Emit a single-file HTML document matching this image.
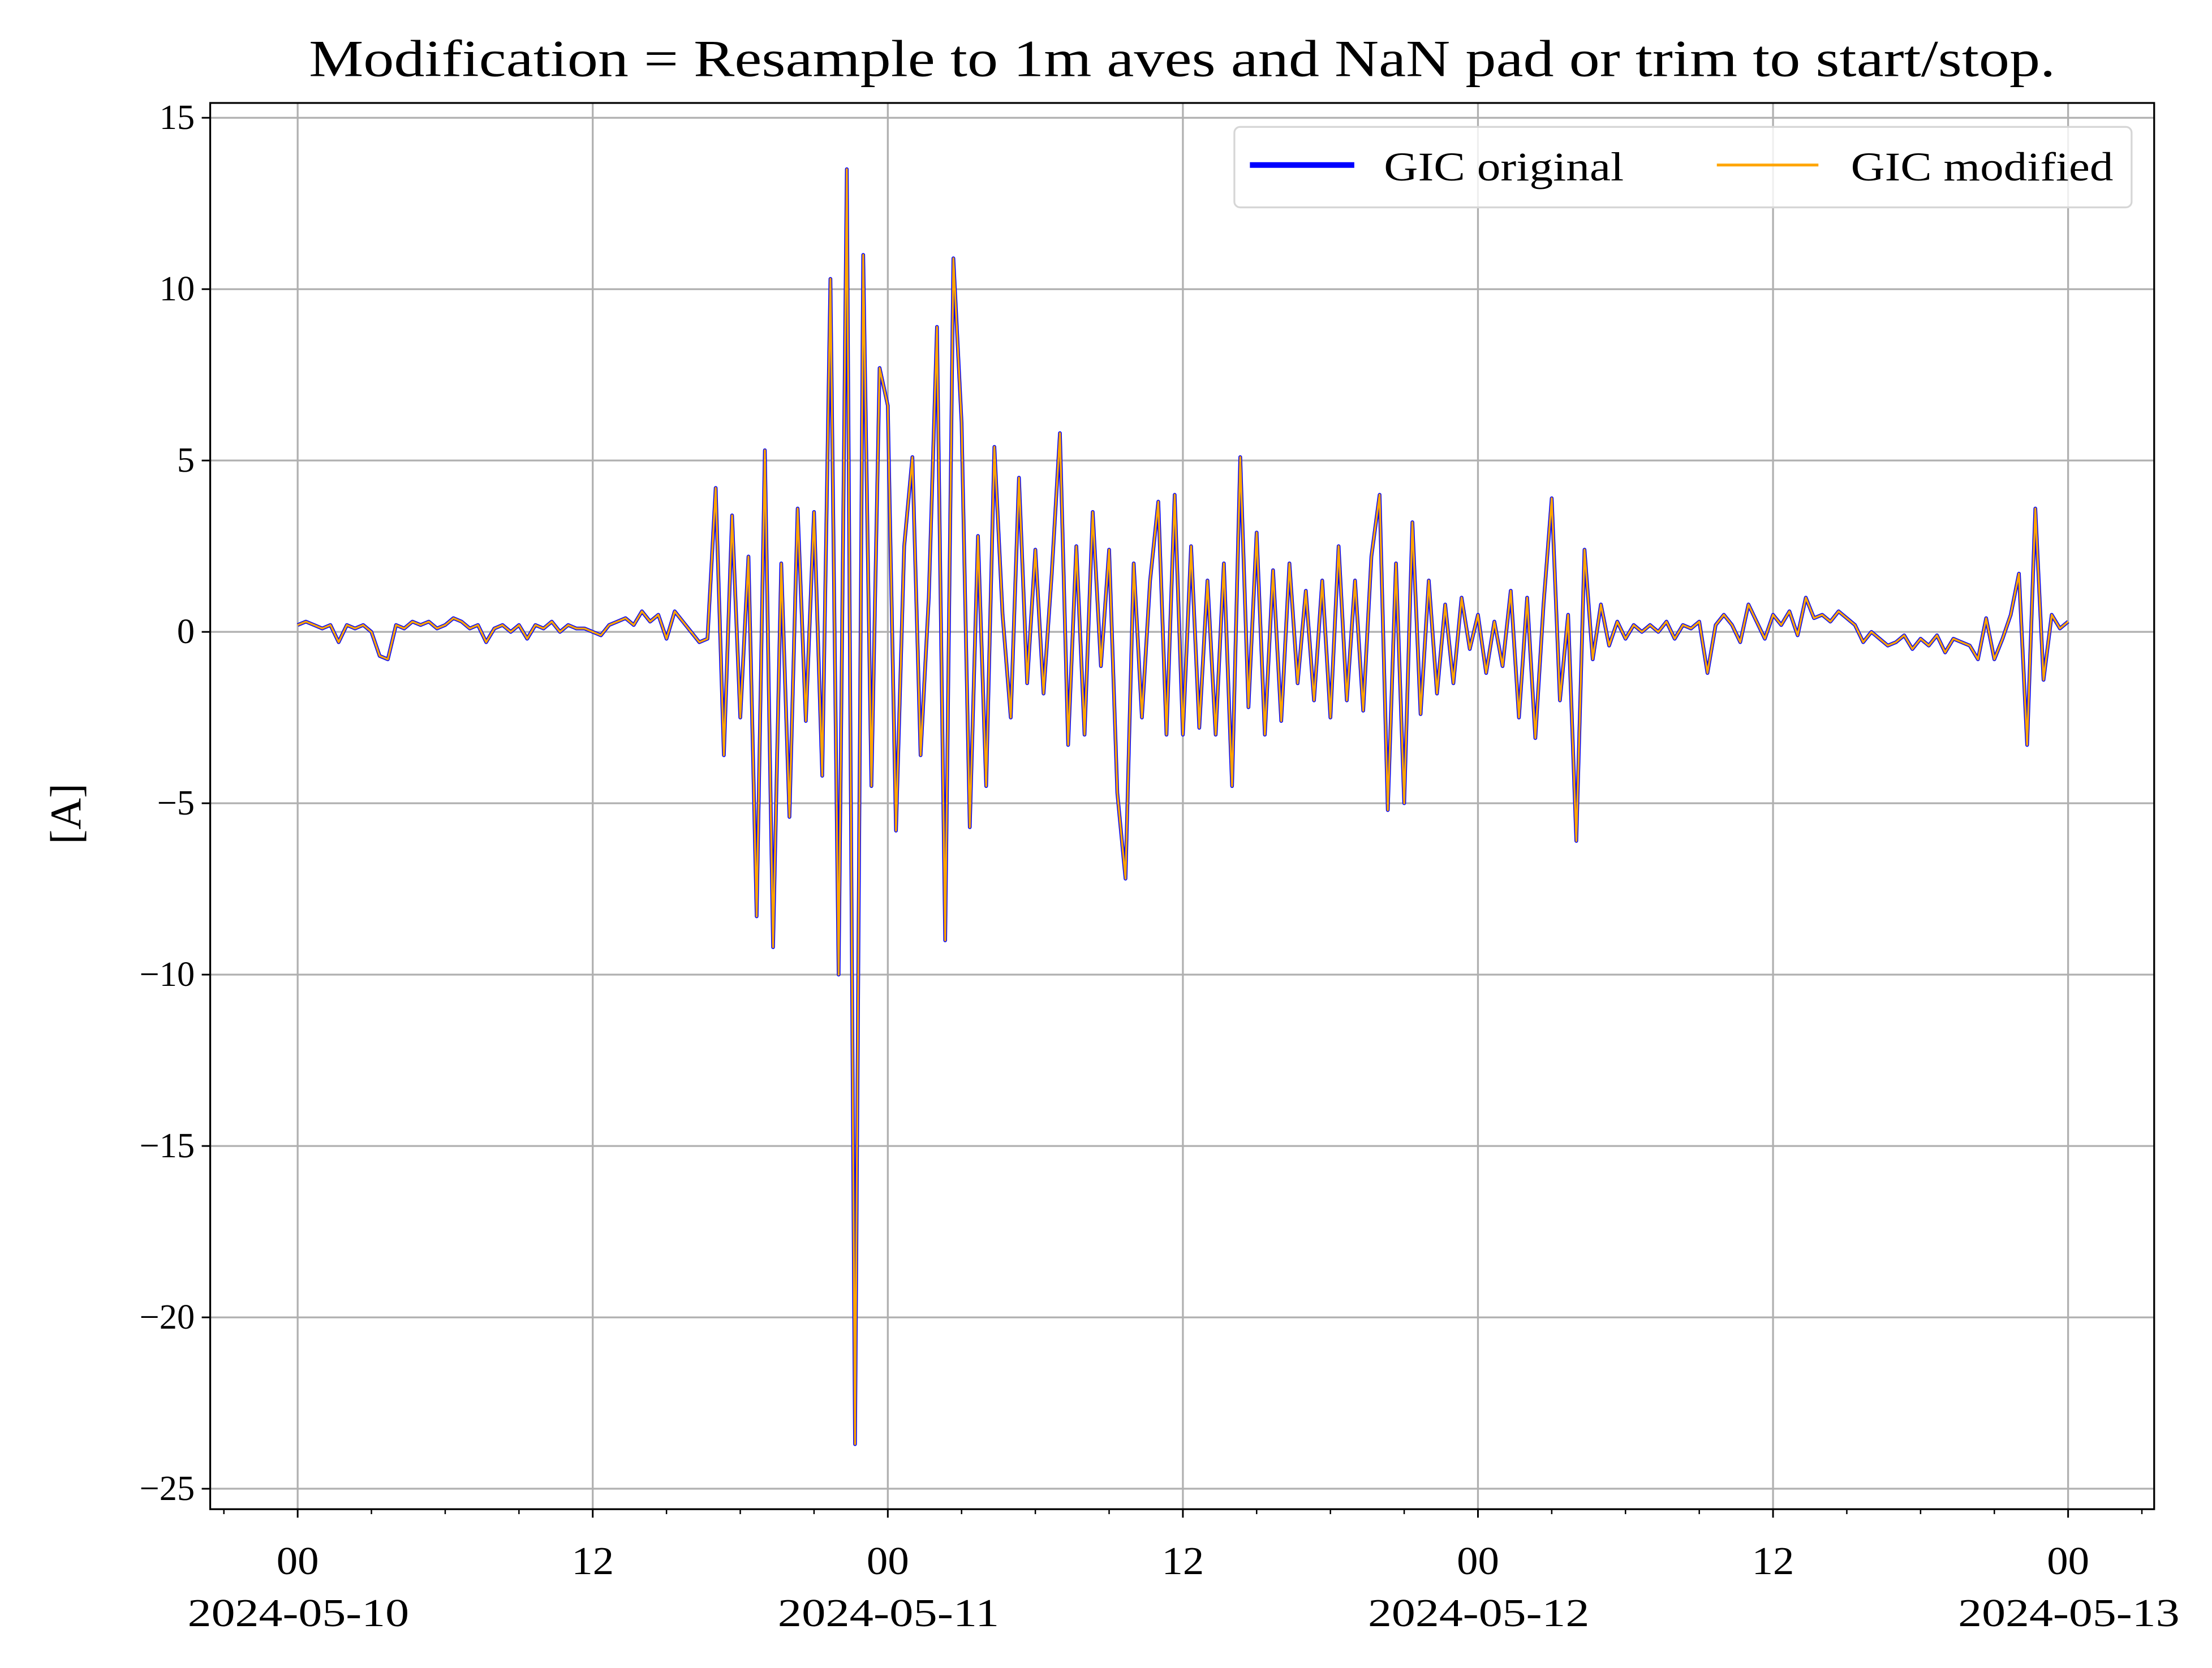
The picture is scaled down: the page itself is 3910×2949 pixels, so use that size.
<!DOCTYPE html>
<html><head><meta charset="utf-8">
<style>
html,body{margin:0;padding:0;background:#fff;}
svg{display:block;}
text{font-family:"Liberation Serif",serif;fill:#000;}
</style></head>
<body>
<svg id="chart" width="3910" height="2949" viewBox="0 0 1568 1182.6" preserveAspectRatio="none" xmlns="http://www.w3.org/2000/svg">
<rect x="0" y="0" width="1568" height="1182.6" fill="#fff"/>
<text x="219" y="54" font-size="37" textLength="1238" lengthAdjust="spacingAndGlyphs">Modification = Resample to 1m aves and NaN pad or trim to start/stop.</text>
<g id="grid"></g>
<g id="series"></g>
<g id="axes"></g>
<text transform="translate(57,577) rotate(-90)" font-size="31" text-anchor="middle">[A]</text>
<g>
<rect x="875" y="90" width="636" height="57" rx="4" fill="#fff" fill-opacity="0.8" stroke="#d6d6d6" stroke-width="1.3"/>
<line x1="886" y1="117" x2="960" y2="117" stroke="#0000ff" stroke-width="4"/>
<text x="981" y="128" font-size="29" textLength="170" lengthAdjust="spacingAndGlyphs">GIC original</text>
<line x1="1217" y1="117" x2="1289" y2="117" stroke="#ffa500" stroke-width="2"/>
<text x="1312" y="128" font-size="29" textLength="186" lengthAdjust="spacingAndGlyphs">GIC modified</text>
</g>
</svg>
<script>
const stepHours = 1/3;
const gicValues = [
0.2,0.3,0.2, 0.1,0.2,-0.3, 0.2,0.1,0.2, 0.0,-0.7,-0.8, 0.2,0.1,0.3, 0.2,0.3,0.1,
0.2,0.4,0.3, 0.1,0.2,-0.3, 0.1,0.2,0.0, 0.2,-0.2,0.2, 0.1,0.3,0.0, 0.2,0.1,0.1,
0.0,-0.1,0.2, 0.3,0.4,0.2, 0.6,0.3,0.5, -0.2,0.6,0.3, 0.0,-0.3,-0.2, 4.2,-3.6,3.4,
-2.5,2.2,-8.3, 5.3,-9.2,2.0, -5.4,3.6,-2.6, 3.5,-4.2,10.3, -10,13.5,-23.7, 11,-4.5,7.7,
6.6,-5.8,2.5, 5.1,-3.6,1.0, 8.9,-9,10.9, 6.1,-5.7,2.8, -4.5,5.4,0.5, -2.5,4.5,-1.5,
2.4,-1.8,1.7, 5.8,-3.3,2.5, -3.0,3.5,-1.0, 2.4,-4.7,-7.2, 2.0,-2.5,1.5, 3.8,-3.0,4.0,
-3.0,2.5,-2.8, 1.5,-3.0,2.0, -4.5,5.1,-2.2, 2.9,-3.0,1.8, -2.6,2.0,-1.5, 1.2,-2.0,1.5,
-2.5,2.5,-2.0, 1.5,-2.3,2.2, 4.0,-5.2,2.0, -5.0,3.2,-2.4, 1.5,-1.8,0.8, -1.5,1.0,-0.5,
0.5,-1.2,0.3, -1.0,1.2,-2.5, 1.0,-3.1,0.8, 3.9,-2.0,0.5, -6.1,2.4,-0.8, 0.8,-0.4,0.3,
-0.2,0.2,0.0, 0.2,0.0,0.3, -0.2,0.2,0.1, 0.3,-1.2,0.2, 0.5,0.2,-0.3, 0.8,0.3,-0.2,
0.5,0.2,0.6, -0.1,1.0,0.4, 0.5,0.3,0.6, 0.4,0.2,-0.3, 0.0,-0.2,-0.4, -0.3,-0.1,-0.5,
-0.2,-0.4,-0.1, -0.6,-0.2,-0.3, -0.4,-0.8,0.4, -0.8,-0.2,0.5, 1.7,-3.3,3.6, -1.4,0.5,0.1,
0.3
];
const yTicks = [15,10,5,0,-5,-10,-15,-20,-25];
const yTickLabels = ["15","10","5","0","\u22125","\u221210","\u221215","\u221220","\u221225"];
const xTickHours = [0,12,24,36,48,60,72];
const xTickLabels = ["00","12","00","12","00","12","00"];
const xDateLabels = ["2024-05-10","","2024-05-11","","2024-05-12","","2024-05-13"];

const AX = {l:149, r:1527, t:73, b:1070};
const xs = h => 211 + h*(1466-211)/72;
const ys = v => 448 - v*(1056-84)/40;
const NS = "http://www.w3.org/2000/svg";
function mk(tag, attrs, parent){const e=document.createElementNS(NS,tag);for(const k in attrs)e.setAttribute(k,attrs[k]);parent.appendChild(e);return e;}
const grid=document.getElementById('grid'), axes=document.getElementById('axes'), series=document.getElementById('series');

yTicks.forEach((v,i)=>{
  const y=ys(v);
  const g=mk('line',{x1:AX.l,x2:AX.r,y1:y,y2:y,stroke:'#b0b0b0','stroke-width':1.3},grid);
  
  
  const t=mk('line',{x1:AX.l-6,x2:AX.l,y1:y,y2:y,stroke:'#000','stroke-width':1.2},axes);
  
  
  const lb=mk('text',{x:AX.l-11,y:y+8,'font-size':25,'text-anchor':'end'},axes);
  lb.textContent=yTickLabels[i];
  
  
});
xTickHours.forEach((h,i)=>{
  const x=xs(h);
  const g=mk('line',{x1:x,x2:x,y1:AX.t,y2:AX.b,stroke:'#b0b0b0','stroke-width':1.3},grid);
  
  
  const t=mk('line',{x1:x,x2:x,y1:AX.b,y2:AX.b+6,stroke:'#000','stroke-width':1.2},axes);
  
  
  const lb=mk('text',{x:x-15,y:AX.b+46,'font-size':28,textLength:30,lengthAdjust:'spacingAndGlyphs'},axes);
  lb.textContent=xTickLabels[i];
  
  
  if(xDateLabels[i]){
    const d=mk('text',{x:x-78,y:AX.b+83,'font-size':28,textLength:157,lengthAdjust:'spacingAndGlyphs'},axes);
    d.textContent=xDateLabels[i];
    
    
  }
});
for(let h=-3;h<=75;h+=3){
  if(h%12===0) continue;
  const x=xs(h);
  const m=mk('line',{x1:x,x2:x,y1:AX.b,y2:AX.b+3.5,stroke:'#000','stroke-width':1},axes);
  
  
}
const frame=mk('rect',{x:AX.l,y:AX.t,width:AX.r-AX.l,height:AX.b-AX.t,fill:'none',stroke:'#000','stroke-width':1.3},axes);



const pts=gicValues.map((v,i)=>xs(i*stepHours).toFixed(2)+','+ys(v).toFixed(2)).join(' ');
const orig=mk('polyline',{points:pts,fill:'none',stroke:'#0000ff','stroke-width':2.6,'stroke-linejoin':'round'},series);


const mod=mk('polyline',{points:pts,fill:'none',stroke:'#ffa500','stroke-width':1.4,'stroke-linejoin':'round'},series);


</script>
</body></html>
